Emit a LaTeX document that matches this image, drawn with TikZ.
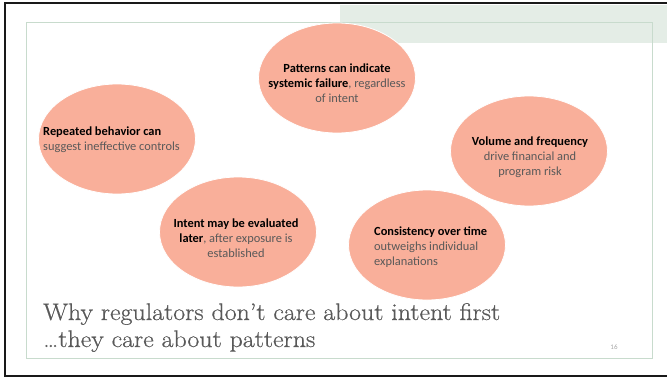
\documentclass[tikz,border=0pt]{standalone}
\usepackage{fontspec}
\newfontfamily\calibri{Carlito}
\newfontfamily\titlefont[FakeStretch=1.08, FakeBold=0.6, Ligatures=TeX]{Latin Modern Roman}
\usetikzlibrary{shapes.geometric}
\definecolor{salmon}{HTML}{F9AF9A}
\definecolor{bandgreen}{HTML}{E4EDE6}
\definecolor{framegreen}{HTML}{C8DBCD}
\definecolor{bodygray}{HTML}{595959}
\newcommand{\hl}[1]{\textbf{\color{black}#1}}

\begin{document}
\begin{tikzpicture}[x=1pt,y=-1pt,
  bubble/.style={ellipse, fill=salmon, draw=white, line width=0.8pt,
    minimum width=157pt, minimum height=110pt, inner sep=0pt},
  bubbletext/.style={font=\calibri\fontsize{12.4}{15}\selectfont,
    text=bodygray, inner sep=0pt}]
\useasboundingbox (0,0) rectangle (667,378);
\fill[bandgreen] (340,4.5) rectangle (667,42.5);
\draw[framegreen, line width=1pt] (26,22) rectangle (652,358);
% bubbles
\node[bubble] (repeated) at (117,139) {};
\node[bubble] (patterns) at (337,78) {};
\node[bubble] (volume) at (529,151) {};
\node[bubble] (intent) at (238,232) {};
\node[bubble] (consistency) at (427,245) {};
% bubble texts
\node[bubbletext, align=center] (patternstext) at (337,83)
  {\hl{Patterns can indicate}\\\hl{systemic failure}, regardless\\of intent};
\node[bubbletext, align=left, anchor=west] (repeatedtext) at (43,140)
  {\hl{Repeated behavior can}\\suggest ineffective controls};
\node[bubbletext, align=center] (volumetext) at (530,157)
  {\hl{Volume and frequency}\\drive financial and\\program risk};
\node[bubbletext, align=center] (intenttext) at (236,238)
  {\hl{Intent may be evaluated}\\\hl{later}, after exposure is\\established};
\node[bubbletext, align=left, anchor=west] (consistencytext) at (374,247)
  {\hl{Consistency over time}\\outweighs individual\\explanations};
% title
\node[font=\titlefont\fontsize{24}{27}\selectfont, text=bodygray, align=left,
  anchor=base west, inner sep=0pt] (title) at (43,347)
  {Why regulators don’t care about intent first\\…they care about patterns};
\node[font=\calibri\fontsize{7}{8}\selectfont, text=black!35] (pagenum) at (614,347) {16};
% outer frame
\draw[line width=2.5pt, black!90] (667,3) -- (5,3) -- (5,376) -- (667,376);
\end{tikzpicture}
\end{document}
